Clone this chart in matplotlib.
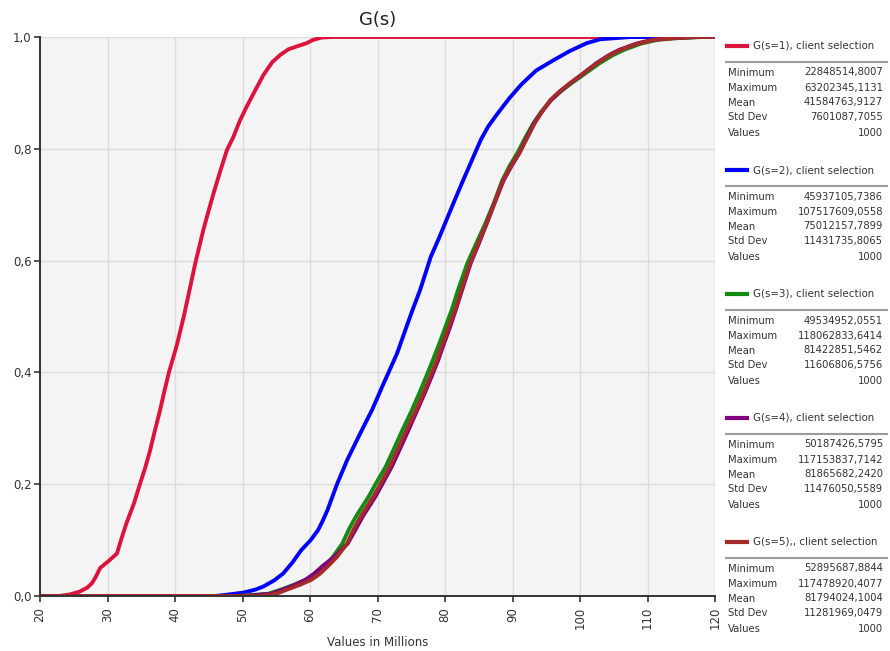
import matplotlib
matplotlib.use("Agg")
import matplotlib.pyplot as plt
from matplotlib.ticker import FuncFormatter, MultipleLocator

# ---- data: cumulative curves (values in millions vs cumulative probability) ----
series_labels = [
    "G(s=1), client selection",
    "G(s=2), client selection",
    "G(s=3), client selection",
    "G(s=4), client selection",
    "G(s=5),, client selection",
]
series_colors = ["#dc143c", "#0000ff", "#138a13", "#800080", "#a52a2a"]

s1_p = [0.0, 0.003, 0.008, 0.015, 0.023, 0.035, 0.05, 0.063, 0.076, 0.10, 0.13,
        0.165, 0.2, 0.23, 0.26, 0.295, 0.333, 0.365, 0.40, 0.45, 0.50, 0.55, 0.595,
        0.625, 0.655, 0.69, 0.72, 0.76, 0.798, 0.82, 0.85, 0.875, 0.905, 0.932,
        0.955, 0.968, 0.978, 0.983, 0.989, 0.995, 0.999, 1.0]
s1_x = [22.85, 24.5, 25.9, 27.0, 27.7, 28.3, 28.9, 30.2, 31.4, 32.0, 32.8,
        33.9, 34.8, 35.6, 36.3, 37.0, 37.8, 38.4, 39.1, 40.3, 41.3, 42.2, 43.0,
        43.6, 44.2, 45.0, 45.7, 46.7, 47.7, 48.6, 49.6, 50.6, 51.9, 53.1,
        54.4, 55.6, 56.8, 58.0, 59.5, 60.5, 61.7, 63.2]

s2_p = [0.0, 0.002, 0.006, 0.011, 0.017, 0.028, 0.04, 0.06, 0.082, 0.10, 0.118,
        0.135, 0.154, 0.2, 0.243, 0.29, 0.333, 0.38, 0.434, 0.475, 0.512, 0.547,
        0.607, 0.64, 0.675, 0.71, 0.744, 0.78, 0.816, 0.84, 0.86, 0.89, 0.915,
        0.94, 0.958, 0.975, 0.989, 0.996, 1.0]
s2_x = [45.9, 47.5, 50.1, 51.8, 53.1, 54.7, 56.0, 57.4, 58.7, 60.1, 61.2,
        61.9, 62.6, 64.0, 65.5, 67.4, 69.2, 70.9, 72.9, 74.1, 75.2, 76.3,
        77.9, 79.1, 80.3, 81.5, 82.7, 84.0, 85.3, 86.4, 87.6, 89.5, 91.3,
        93.5, 96.0, 98.5, 101.0, 103.0, 107.5]

s345_p = [0.0, 0.004, 0.011, 0.02, 0.029, 0.04, 0.055, 0.07, 0.094, 0.12, 0.142,
          0.178, 0.2, 0.231, 0.265, 0.297, 0.33, 0.363, 0.392, 0.422, 0.45, 0.476,
          0.512, 0.55, 0.595, 0.63, 0.667, 0.705, 0.744, 0.77, 0.792, 0.82, 0.846,
          0.867, 0.887, 0.903, 0.917, 0.935, 0.953, 0.967, 0.977, 0.988, 0.995,
          0.998, 1.0]
s3_x = [49.5, 53.8, 55.6, 57.6, 59.4, 60.9, 62.3, 63.4, 64.8, 65.8, 66.8,
        68.7, 69.7, 71.2, 72.5, 73.7, 75.0, 76.2, 77.2, 78.2, 79.1, 79.9,
        81.0, 82.0, 83.3, 84.6, 86.0, 87.3, 88.5, 89.6, 90.7, 91.9, 93.1,
        94.3, 95.7, 97.2, 98.7, 100.8, 102.9, 104.8, 106.5, 109.0, 111.5,
        114.5, 118.1]
s4_x = [50.2, 54.3, 55.9, 57.8, 59.3, 60.6, 62.0, 63.6, 65.6, 66.8, 67.8,
        69.7, 70.7, 72.1, 73.4, 74.6, 75.8, 77.0, 78.0, 79.0, 79.8, 80.6,
        81.6, 82.6, 83.8, 85.0, 86.2, 87.4, 88.7, 89.9, 91.0, 92.1, 93.2,
        94.4, 95.7, 97.1, 98.5, 100.5, 102.4, 104.2, 105.8, 108.3, 110.7,
        113.5, 117.2]
s5_x = [52.9, 55.0, 56.5, 58.5, 60.2, 61.5, 62.8, 64.0, 65.5, 66.5, 67.5,
        69.4, 70.4, 71.8, 73.1, 74.3, 75.6, 76.8, 77.8, 78.8, 79.6, 80.4,
        81.5, 82.5, 83.7, 84.9, 86.2, 87.4, 88.6, 89.8, 91.0, 92.2, 93.3,
        94.4, 95.6, 97.0, 98.5, 100.5, 102.5, 104.3, 106.0, 108.5, 111.0,
        114.0, 117.5]

curves_x = [s1_x, s2_x, s3_x, s4_x, s5_x]
curves_p = [s1_p, s2_p, s345_p, s345_p, s345_p]

# ---- summary statistics ----
stat_names = ["Minimum", "Maximum", "Mean", "Std Dev", "Values"]
stat_min = [22848514.8007, 45937105.7386, 49534952.0551, 50187426.5795, 52895687.8844]
stat_max = [63202345.1131, 107517609.0558, 118062833.6414, 117153837.7142, 117478920.4077]
stat_mean = [41584763.9127, 75012157.7899, 81422851.5462, 81865682.2420, 81794024.1004]
stat_std = [7601087.7055, 11431735.8065, 11606806.5756, 11476050.5589, 11281969.0479]
stat_count = [1000, 1000, 1000, 1000, 1000]

x_lo, x_hi = 20, 120
title = "G(s)"
x_label = "Values in Millions"

# ---- figure ----
W, H = 890, 651
fig = plt.figure(figsize=(W / 100, H / 100), dpi=100)
fig.patch.set_facecolor("white")
plt.rcParams["font.family"] = ["DejaVu Sans"]


def fx(px):
    return px / W


def fy(py):
    return 1 - py / H


ax = fig.add_axes([fx(40), fy(596), fx(715) - fx(40), fy(37) - fy(596)])
ax.set_facecolor("#f4f4f4")
ax.set_xlim(x_lo, x_hi)
ax.set_ylim(0, 1)
ax.xaxis.set_major_locator(MultipleLocator(10))
ax.yaxis.set_major_locator(MultipleLocator(0.2))
ax.grid(True, color="#dcdcdc", linewidth=1.0)
ax.set_axisbelow(True)
for side in ("top", "right"):
    ax.spines[side].set_visible(False)
for side in ("left", "bottom"):
    ax.spines[side].set_color("#333333")
    ax.spines[side].set_linewidth(1.4)

ax.xaxis.set_major_formatter(FuncFormatter(lambda v, _: f"{v:.0f}"))
ax.yaxis.set_major_formatter(FuncFormatter(lambda v, _: f"{v:.1f}".replace(".", ",")))
ax.tick_params(axis="x", labelrotation=90, labelsize=8.5, length=4, width=1.2,
               color="#333333", labelcolor="#333333", pad=4)
ax.tick_params(axis="y", labelsize=8.5, length=4, width=1.2,
               color="#333333", labelcolor="#333333", pad=2)

for xs, ps, col in zip(curves_x, curves_p, series_colors):
    xx = [x_lo] + list(xs) + [x_hi]
    pp = [0.0] + list(ps) + [1.0]
    ax.plot(xx, pp, color=col, linewidth=2.8, solid_joinstyle="round",
            solid_capstyle="butt")

fig.text(fx(377.5), fy(20), title, ha="center", va="center", fontsize=13, color="#222222")
fig.text(fx(377.5), fy(643), x_label, ha="center", va="center", fontsize=8.5, color="#333333")

# ---- legend with statistics blocks ----
block_top = [46, 170, 294, 418, 542]
row_offsets = [26.5, 42, 56.5, 71, 86.5]


def fmt(v):
    return f"{v:.4f}".replace(".", ",")


for i, (lbl, col) in enumerate(zip(series_labels, series_colors)):
    y0 = block_top[i]
    fig.add_artist(plt.Line2D([fx(727), fx(747)], [fy(y0), fy(y0)], color=col,
                              linewidth=3.0, transform=fig.transFigure))
    fig.text(fx(753), fy(y0), lbl, ha="left", va="center", fontsize=7.4, color="#333333")
    fig.add_artist(plt.Line2D([fx(726), fx(887)], [fy(y0 + 16), fy(y0 + 16)],
                              color="#9a9a9a", linewidth=1.5, transform=fig.transFigure))
    vals = [fmt(stat_min[i]), fmt(stat_max[i]), fmt(stat_mean[i]), fmt(stat_std[i]),
            str(stat_count[i])]
    for name, val, off in zip(stat_names, vals, row_offsets):
        fig.text(fx(728), fy(y0 + off), name, ha="left", va="center",
                 fontsize=7.2, color="#333333")
        fig.text(fx(883), fy(y0 + off), val, ha="right", va="center",
                 fontsize=7.2, color="#333333")

fig.savefig("out.png", dpi=100)
